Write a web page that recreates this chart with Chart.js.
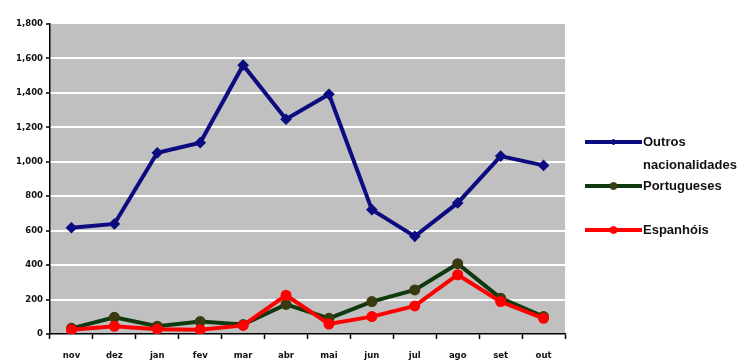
<!DOCTYPE html>
<html lang="pt">
<head>
    <meta charset="UTF-8">
    <title>Hóspedes por nacionalidade</title>
    <script src="https://cdn.jsdelivr.net/npm/chart.js"></script>
    <style>
        html, body { margin: 0; padding: 0; background: #fff; }
        #wrap { position: relative; width: 744px; height: 363px; }
    </style>
</head>
<body>
    <div id="wrap"><canvas id="hospedesChart" width="744" height="363"></canvas></div>

    <script>
        // Monthly figures, nov to out
        const months = ['nov', 'dez', 'jan', 'fev', 'mar', 'abr', 'mai', 'jun', 'jul', 'ago', 'set', 'out'];
        const outros = [617, 639, 1052, 1111, 1561, 1247, 1392, 722, 567, 761, 1033, 979];
        const portugueses = [33, 97, 45, 72, 55, 172, 91, 188, 256, 408, 208, 101];
        const espanhois = [25, 45, 28, 25, 50, 225, 58, 101, 163, 344, 188, 91];
        const yTicks = [0, 200, 400, 600, 800, 1000, 1200, 1400, 1600, 1800];

        const tickFont = { family: 'DejaVu Sans', size: 8.5, weight: 'bold' };

        // grey plot background like the old spreadsheet charts
        const plotBackground = {
            id: 'plotBackground',
            beforeDraw(chart) {
                const { ctx, chartArea: a } = chart;
                ctx.save();
                ctx.fillStyle = '#c0c0c0';
                ctx.fillRect(a.left, a.top, a.right - a.left, a.bottom - a.top);
                ctx.restore();
            }
        };

        // legend on the right, text wrapped when it gets too long
        const sideLegend = {
            id: 'sideLegend',
            afterDraw(chart, args, opts) {
                const ctx = chart.ctx;
                ctx.save();
                ctx.font = opts.font;
                ctx.textBaseline = 'middle';
                chart.data.datasets.forEach((ds, i) => {
                    const y = opts.rows[i];
                    ctx.strokeStyle = ds.borderColor;
                    ctx.lineWidth = ds.borderWidth;
                    ctx.beginPath();
                    ctx.moveTo(opts.x, y);
                    ctx.lineTo(opts.x + opts.lineLen, y);
                    ctx.stroke();

                    ctx.fillStyle = ds.pointBackgroundColor;
                    ctx.strokeStyle = ds.pointBorderColor;
                    ctx.lineWidth = 1;
                    Chart.helpers.drawPoint(ctx, {
                        pointStyle: ds.pointStyle,
                        radius: ds.pointRadius,
                        borderWidth: 1
                    }, opts.x + opts.lineLen / 2, y);

                    // simple word wrap
                    const words = ds.label.split(' ');
                    const lines = [];
                    let cur = '';
                    words.forEach(w => {
                        const t = cur ? cur + ' ' + w : w;
                        if (cur && ctx.measureText(t).width > opts.maxWidth) {
                            lines.push(cur);
                            cur = w;
                        } else {
                            cur = t;
                        }
                    });
                    lines.push(cur);
                    ctx.fillStyle = '#111';
                    lines.forEach((l, k) => {
                        ctx.fillText(l, opts.x + opts.lineLen + 1, y + k * opts.lineHeight);
                    });
                });
                ctx.restore();
            }
        };

        const ctx = document.getElementById('hospedesChart').getContext('2d');
        new Chart(ctx, {
            type: 'line',
            data: {
                labels: months,
                datasets: [
                    {
                        label: 'Outros nacionalidades',
                        data: outros,
                        borderColor: '#0c0c80',
                        borderWidth: 4,
                        pointStyle: 'rectRot',
                        pointRadius: 3,
                        pointBackgroundColor: '#0c0c80',
                        pointBorderColor: '#0c0c80',
                        tension: 0,
                        order: 2
                    },
                    {
                        label: 'Portugueses',
                        data: portugueses,
                        borderColor: '#0f3a0f',
                        borderWidth: 4,
                        pointStyle: 'circle',
                        pointRadius: 3.5,
                        pointBackgroundColor: '#3a3a10',
                        pointBorderColor: '#3a3a10',
                        tension: 0,
                        order: 1
                    },
                    {
                        label: 'Espanhóis',
                        data: espanhois,
                        borderColor: '#ff0000',
                        borderWidth: 4,
                        pointStyle: 'circle',
                        pointRadius: 3.5,
                        pointBackgroundColor: '#ff0000',
                        pointBorderColor: '#ff0000',
                        tension: 0,
                        order: 0
                    }
                ]
            },
            options: {
                responsive: false,
                animation: false,
                layout: { padding: { top: 24, right: 179, left: 0, bottom: 0 } },
                plugins: {
                    legend: { display: false },
                    tooltip: { enabled: false },
                    sideLegend: {
                        x: 585,
                        lineLen: 57,
                        rows: [142, 186, 230],
                        lineHeight: 23,
                        maxWidth: 100,
                        font: 'bold 13px "Liberation Sans"'
                    }
                },
                scales: {
                    x: {
                        offset: true,
                        afterFit(scale) { scale.height = 29; },
                        grid: {
                            offset: true,
                            drawOnChartArea: false,
                            tickLength: 5,
                            tickColor: '#000',
                            tickWidth: 1.5
                        },
                        border: { color: '#000', width: 1.5 },
                        ticks: { color: '#111', font: tickFont, padding: 12 }
                    },
                    y: {
                        min: 0,
                        max: 1800,
                        afterFit(scale) { scale.width = 50; },
                        afterBuildTicks(scale) { scale.ticks = yTicks.map(v => ({ value: v })); },
                        grid: {
                            color: c => (c.tick && (c.tick.value === 0 || c.tick.value === 1800)) ? 'rgba(0,0,0,0)' : '#ffffff',
                            lineWidth: 2,
                            tickLength: 4,
                            tickColor: '#000',
                            tickWidth: 1.5
                        },
                        border: { color: '#000', width: 1.5 },
                        ticks: {
                            color: '#111',
                            font: tickFont,
                            padding: 3,
                            callback: v => v.toLocaleString('en-US')
                        }
                    }
                }
            },
            plugins: [plotBackground, sideLegend]
        });
    </script>
</body>
</html>
